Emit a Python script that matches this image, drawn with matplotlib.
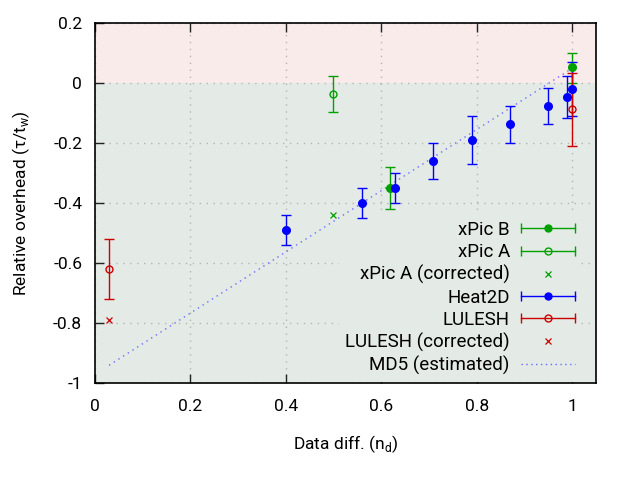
import matplotlib
matplotlib.use('Agg')
import matplotlib.pyplot as plt
from matplotlib.lines import Line2D
from matplotlib.legend_handler import HandlerLine2D, HandlerTuple
from matplotlib.ticker import FuncFormatter

plt.rcParams['font.family'] = ['Roboto', 'DejaVu Sans']
plt.rcParams['font.size'] = 12.5
plt.rcParams['axes.unicode_minus'] = False
plt.rcParams['mathtext.fontset'] = 'custom'
plt.rcParams['mathtext.rm'] = 'Roboto'

# ---- data ----
heat_x = [0.40, 0.56, 0.628, 0.708, 0.79, 0.87, 0.949, 0.99, 1.0]
heat_y = [-0.49, -0.40, -0.35, -0.26, -0.19, -0.137, -0.077, -0.047, -0.018]
heat_lo = [-0.54, -0.45, -0.40, -0.32, -0.27, -0.20, -0.137, -0.117, -0.11]
heat_hi = [-0.44, -0.35, -0.30, -0.20, -0.11, -0.077, -0.017, 0.023, 0.07]

xpicb_x = [0.618, 1.0]
xpicb_y = [-0.35, 0.053]
xpicb_lo = [-0.42, 0.0]
xpicb_hi = [-0.28, 0.10]

xpica_x = [0.5]
xpica_y = [-0.037]
xpica_lo = [-0.097]
xpica_hi = [0.023]

xpica_corr_x = [0.5]
xpica_corr_y = [-0.44]

lulesh_x = [0.03, 1.0]
lulesh_y = [-0.62, -0.087]
lulesh_lo = [-0.72, -0.21]
lulesh_hi = [-0.52, 0.033]

lulesh_corr_x = [0.03]
lulesh_corr_y = [-0.79]

md5_x = [0.03, 1.0]
md5_y = [-0.94, 0.05]

green = '#00a000'
blue = '#0000ff'
red = '#cc0000'
md5_col = '#6a6aff'

fig = plt.figure(figsize=(6.4, 4.8), dpi=100)
ax = fig.add_axes([0.148, 0.2015, 0.784, 0.75])

ax.axhspan(0, 0.2, color='#f9ebea', lw=0, zorder=0.2)
ax.axhspan(-1, 0, color='#e4ebe6', lw=0, zorder=0.2)


def errs(y, lo, hi):
    return [[a - b for a, b in zip(y, lo)], [c - a for a, c in zip(y, hi)]]


ekw = dict(ls='none', elinewidth=1.0, capsize=3.6, capthick=1.0, zorder=3)

ax.plot(md5_x, md5_y, color=md5_col, lw=1.0, ls=(0, (1, 3)), zorder=2.5)
ax.errorbar(xpicb_x, xpicb_y, yerr=errs(xpicb_y, xpicb_lo, xpicb_hi),
            color=green, marker='o', ms=5.5, **ekw)
ax.errorbar(xpica_x, xpica_y, yerr=errs(xpica_y, xpica_lo, xpica_hi),
            color=green, marker='o', mfc='none', ms=5, mew=1.0, **ekw)
ax.plot(xpica_corr_x, xpica_corr_y, ls='none', marker='x', color=green, ms=4.5, mew=0.9, zorder=3)
ax.errorbar(heat_x, heat_y, yerr=errs(heat_y, heat_lo, heat_hi),
            color=blue, marker='o', ms=5.5, **ekw)
ax.errorbar(lulesh_x, lulesh_y, yerr=errs(lulesh_y, lulesh_lo, lulesh_hi),
            color=red, marker='o', mfc='none', ms=5, mew=1.0, **ekw)
ax.plot(lulesh_corr_x, lulesh_corr_y, ls='none', marker='x', color=red, ms=4.5, mew=0.9, zorder=3)

ax.set_xlim(0, 1.051)
ax.set_ylim(-1, 0.2)
ax.set_xticks([0, 0.2, 0.4, 0.6, 0.8, 1.0])
ax.set_yticks([-1, -0.8, -0.6, -0.4, -0.2, 0, 0.2])
fmt = FuncFormatter(lambda v, p: '%g' % round(v, 3))
ax.xaxis.set_major_formatter(fmt)
ax.yaxis.set_major_formatter(fmt)
ax.tick_params(direction='in', length=6.5, width=1.0, top=True, right=False,
               color='#222222')
ax.tick_params(axis='x', pad=11)
ax.tick_params(axis='y', pad=9)
ax.grid(True, color='#b4b4b4', lw=1.0, ls=(0, (1, 4)))
for s in ax.spines.values():
    s.set_linewidth(1.2)

ax.set_xlabel('Data diff. (n$_\\mathrm{d}$)', labelpad=14)
ax.set_ylabel('Relative overhead (\u03c4/t$_\\mathrm{w}$)', labelpad=15)

# gnuplot-like legend samples: bar with caps, point in the middle
def bar(c):
    return Line2D([], [], color=c, lw=1.0, marker='|', ms=7, mew=1.0)

def pt(c, filled=True):
    return Line2D([], [], ls='none', color=c, marker='o', ms=5,
                  mfc=c if filled else 'none', mew=1.0)

bars = [bar(green), bar(green), bar(blue), bar(red)]
handles = [
    (bars[0], pt(green)),
    (bars[1], pt(green, False)),
    Line2D([], [], ls='none', marker='x', color=green, ms=4.5, mew=0.9),
    (bars[2], pt(blue)),
    (bars[3], pt(red, False)),
    Line2D([], [], ls='none', marker='x', color=red, ms=4.5, mew=0.9),
    Line2D([], [], color=md5_col, lw=1.0, ls=(0, (1, 2.5))),
]
labels = ['xPic B', 'xPic A', 'xPic A (corrected)', 'Heat2D', 'LULESH',
          'LULESH (corrected)', 'MD5 (estimated)']
hmap = {b: HandlerLine2D(numpoints=2, marker_pad=0) for b in bars}
hmap[tuple] = HandlerTuple(ndivide=1, pad=0)
leg = ax.legend(handles, labels, handler_map=hmap, markerfirst=False, numpoints=1,
                loc='lower right', bbox_to_anchor=(0.970, 0.004), borderaxespad=0,
                borderpad=0.35, handlelength=2.88, handletextpad=0.59, labelspacing=0.22,
                frameon=True, fancybox=False, framealpha=1, fontsize=13.5)
leg.get_frame().set_facecolor('#e4ebe6')
leg.get_frame().set_edgecolor('none')
leg.set_zorder(2.2)

fig.savefig('out.png', dpi=100)
